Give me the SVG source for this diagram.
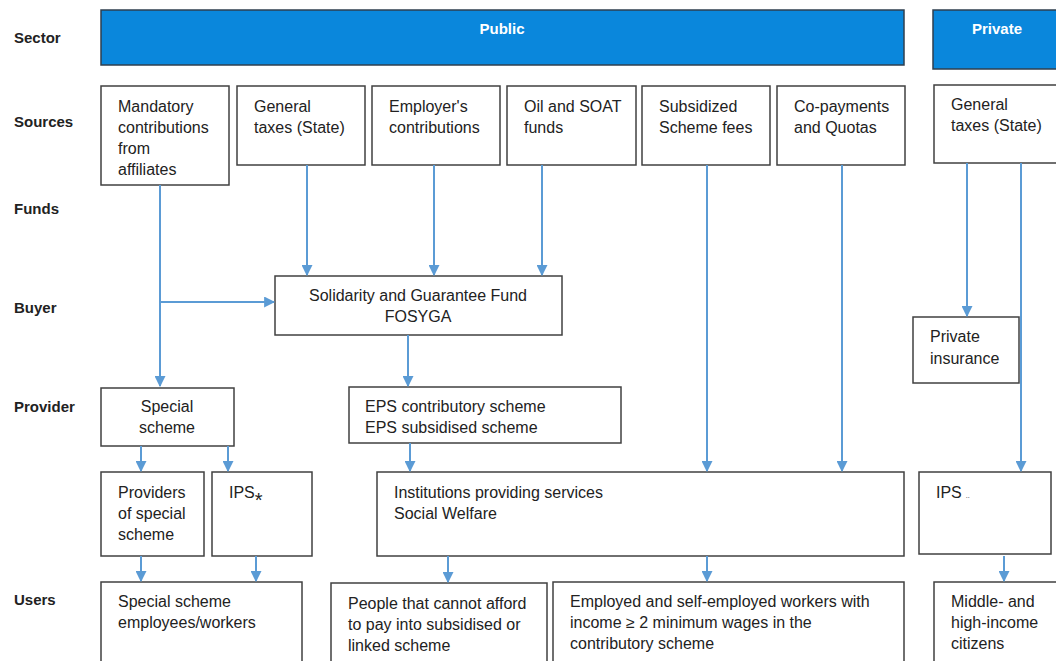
<svg xmlns="http://www.w3.org/2000/svg" width="1056" height="661" viewBox="0 0 1056 661">
<style>
.lbl{font-family:"Liberation Sans",Arial,sans-serif;font-size:15px;font-weight:bold;fill:#222}
.t{font-family:"Liberation Sans",Arial,sans-serif;font-size:16px;fill:#222}
.hd{font-family:"Liberation Sans",Arial,sans-serif;font-size:15px;font-weight:bold;fill:#fff}
.box{fill:#fff;stroke:#404040;stroke-width:1.5}
.bar{fill:#0a87dc;stroke:#2f3f4f;stroke-width:1.5}
.c{fill:none;stroke:#5b9bd5;stroke-width:2}
</style>
<defs>
<marker id="ah" viewBox="0 0 10 10" refX="9" refY="5" markerWidth="5.5" markerHeight="5.5" orient="auto" markerUnits="strokeWidth">
<path d="M0,0 L10,5 L0,10 z" fill="#5b9bd5"/>
</marker>
</defs>
<rect width="1056" height="661" fill="#fff"/>
<g id="row-labels">
<text class="lbl" x="14" y="43">Sector</text>
<text class="lbl" x="14" y="127">Sources</text>
<text class="lbl" x="14" y="214">Funds</text>
<text class="lbl" x="14" y="313">Buyer</text>
<text class="lbl" x="14" y="412">Provider</text>
<text class="lbl" x="14" y="605">Users</text>
</g>
<g id="public"><rect class="bar" x="101" y="10" width="803" height="55"/><text class="hd" x="502" y="34" text-anchor="middle">Public</text></g>
<g id="private"><rect class="bar" x="933" y="10" width="130" height="59"/><text class="hd" x="997" y="34" text-anchor="middle">Private</text></g>
<g id="src-mandatory"><rect class="box" x="101" y="86" width="128" height="99"/><text class="t" x="118" y="112">Mandatory<tspan x="118" dy="21">contributions</tspan><tspan x="118" dy="21">from</tspan><tspan x="118" dy="21">affiliates</tspan></text></g>
<g id="src-taxes"><rect class="box" x="237" y="86" width="128" height="79"/><text class="t" x="254" y="112">General<tspan x="254" dy="21">taxes (State)</tspan></text></g>
<g id="src-employer"><rect class="box" x="372" y="86" width="128" height="79"/><text class="t" x="389" y="112">Employer's<tspan x="389" dy="21">contributions</tspan></text></g>
<g id="src-oil"><rect class="box" x="507" y="86" width="129" height="79"/><text class="t" x="524" y="112">Oil and SOAT<tspan x="524" dy="21">funds</tspan></text></g>
<g id="src-subsidized"><rect class="box" x="642" y="86" width="128" height="79"/><text class="t" x="659" y="112">Subsidized<tspan x="659" dy="21">Scheme fees</tspan></text></g>
<g id="src-copay"><rect class="box" x="777" y="86" width="128" height="79"/><text class="t" x="794" y="112">Co-payments<tspan x="794" dy="21">and Quotas</tspan></text></g>
<g id="src-private-taxes"><rect class="box" x="934" y="85" width="130" height="78"/><text class="t" x="951" y="110">General<tspan x="951" dy="21">taxes (State)</tspan></text></g>
<g id="fosyga"><rect class="box" x="275" y="276" width="287" height="59"/><text class="t" x="418" y="301" text-anchor="middle">Solidarity and Guarantee Fund<tspan x="418" dy="21">FOSYGA</tspan></text></g>
<g id="private-insurance"><rect class="box" x="913" y="317" width="106" height="66"/><text class="t" x="930" y="342">Private<tspan x="930" dy="22">insurance</tspan></text></g>
<g id="special-scheme"><rect class="box" x="101" y="388" width="133" height="58"/><text class="t" x="167" y="412" text-anchor="middle">Special<tspan x="167" dy="21">scheme</tspan></text></g>
<g id="eps"><rect class="box" x="349" y="387" width="272" height="56"/><text class="t" x="365" y="412">EPS contributory scheme<tspan x="365" dy="21">EPS subsidised scheme</tspan></text></g>
<g id="providers-special"><rect class="box" x="101" y="472" width="103" height="84"/><text class="t" x="118" y="498">Providers<tspan x="118" dy="21">of special</tspan><tspan x="118" dy="21">scheme</tspan></text></g>
<g id="ips-star"><rect class="box" x="212" y="472" width="100" height="84"/><text class="t" x="229" y="498">IPS<tspan font-size="20" dy="9">*</tspan></text></g>
<g id="institutions"><rect class="box" x="377" y="472" width="527" height="84"/><text class="t" x="394" y="498">Institutions providing services<tspan x="394" dy="21">Social Welfare</tspan></text></g>
<g id="ips-private"><rect class="box" x="919" y="472" width="132" height="82"/><text class="t" x="936" y="498">IPS<tspan font-size="7" dx="4">..</tspan></text></g>
<g id="users-special"><rect class="box" x="101" y="582" width="201" height="90"/><text class="t" x="118" y="607">Special scheme<tspan x="118" dy="21">employees/workers</tspan></text></g>
<g id="users-poor"><rect class="box" x="331" y="583" width="216" height="90"/><text class="t" x="348" y="609">People that cannot afford<tspan x="348" dy="21">to pay into subsidised or</tspan><tspan x="348" dy="21">linked scheme</tspan></text></g>
<g id="users-employed"><rect class="box" x="553" y="582" width="351" height="90"/><text class="t" x="570" y="607">Employed and self-employed workers with<tspan x="570" dy="21">income ≥ 2 minimum wages in the</tspan><tspan x="570" dy="21">contributory scheme</tspan></text></g>
<g id="users-middle"><rect class="box" x="934" y="582" width="130" height="90"/><text class="t" x="951" y="607">Middle- and<tspan x="951" dy="21">high-income</tspan><tspan x="951" dy="21">citizens</tspan></text></g>
<g id="connectors">
<path class="c" d="M160,185 V386" marker-end="url(#ah)"/>
<path class="c" d="M160,302 H274" marker-end="url(#ah)"/>
<path class="c" d="M307,165 V275" marker-end="url(#ah)"/>
<path class="c" d="M434,165 V275" marker-end="url(#ah)"/>
<path class="c" d="M542,165 V275" marker-end="url(#ah)"/>
<path class="c" d="M408,335 V386" marker-end="url(#ah)"/>
<path class="c" d="M410,443 V471" marker-end="url(#ah)"/>
<path class="c" d="M707,165 V471" marker-end="url(#ah)"/>
<path class="c" d="M842,165 V471" marker-end="url(#ah)"/>
<path class="c" d="M967,163 V316" marker-end="url(#ah)"/>
<path class="c" d="M1021,163 V471" marker-end="url(#ah)"/>
<path class="c" d="M141,446 V471" marker-end="url(#ah)"/>
<path class="c" d="M228,446 V471" marker-end="url(#ah)"/>
<path class="c" d="M141,556 V581" marker-end="url(#ah)"/>
<path class="c" d="M256,556 V581" marker-end="url(#ah)"/>
<path class="c" d="M448,556 V582" marker-end="url(#ah)"/>
<path class="c" d="M707,556 V581" marker-end="url(#ah)"/>
<path class="c" d="M1004,556 V581" marker-end="url(#ah)"/>
</g>
</svg>
